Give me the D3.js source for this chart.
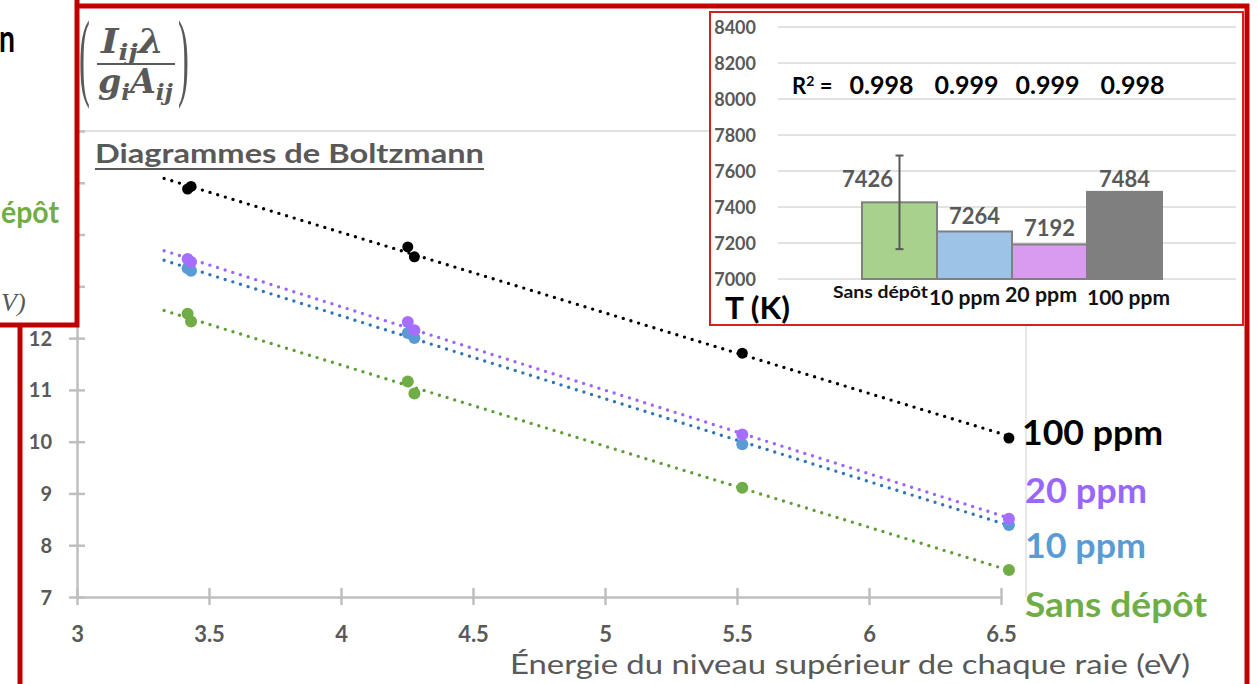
<!DOCTYPE html>
<html><head><meta charset="utf-8">
<script src="https://cdn.jsdelivr.net/npm/d3@7"></script>
<style>body{margin:0;background:#fff;overflow:hidden} svg{display:block}</style>
</head><body><svg id="c" width="1258" height="684"></svg>
<script>
// ---------- data ----------
const energies   = [3.419, 3.432, 4.253, 4.278, 5.52, 6.53];
const sansDepot  = [12.47, 12.32, 11.16, 10.93, 9.11, 7.52];
const ppm10      = [13.35, 13.30, 12.10, 12.00, 9.95, 8.39];
const ppm20      = [13.53, 13.47, 12.31, 12.15, 10.14, 8.51];
const ppm100     = [14.88, 14.93, 13.76, 13.57, 11.71, 10.07];
const seriesNames = ["Sans dépôt", "10 ppm", "20 ppm", "100 ppm"];
const xTicks = [3, 3.5, 4, 4.5, 5, 5.5, 6, 6.5];
const yTicks = [7, 8, 9, 10, 11, 12, 13, 14, 15, 16];
const yTickLabelsVisible = [7, 8, 9, 10, 11, 12];
const trendStart = 3.33;

const tempCategories = ["Sans dépôt", "10 ppm", "20 ppm", "100 ppm"];
const temperatures   = [7426, 7264, 7192, 7484];
const tempErrors     = [260, 0, 0, 0];
const r2Values       = ["0.998", "0.999", "0.999", "0.998"];
const tTicks = [7000, 7200, 7400, 7600, 7800, 8000, 8200, 8400];

// ---------- styles ----------
const RED = "#C00000";
const GREY = "#595959";
const AXIS = "#BFBFBF";
const FONT = "Lato, 'Open Sans', sans-serif";
const markerColors = ["#70AD47", "#5B9BD5", "#A66DFF", "#000000"];
const trendColors  = ["#5E9E34", "#2E75B6", "#9966FF", "#000000"];
const labelColors  = ["#70AD47", "#5B9BD5", "#9966FF", "#000000"];
const barColors    = ["#A9D18E", "#9DC3E6", "#D99BEE", "#7F7F7F"];

const svg = d3.select("#c");

// outer big box
svg.append("rect").attr("x", 20).attr("y", 6).attr("width", 1227).attr("height", 720)
  .attr("fill", "#fff").attr("stroke", RED).attr("stroke-width", 5);

// ---------- main chart ----------
const x = d3.scaleLinear().domain([3, 6.5]).range([77, 1001]);
const y = d3.scaleLinear().domain([7, 16]).range([597, 131]);

const g = svg.append("g");
g.append("line").attr("x1", 80).attr("x2", 1026).attr("y1", y(16)).attr("y2", y(16))
  .attr("stroke", "#D9D9D9").attr("stroke-width", 1.5);
g.append("line").attr("x1", 1026).attr("x2", 1026).attr("y1", y(16)).attr("y2", y(7))
  .attr("stroke", "#D0D0D0").attr("stroke-width", 1);

const yAxis = d3.axisLeft(y).tickValues(yTicks).tickSize(0)
  .tickFormat(d => yTickLabelsVisible.includes(d) ? d3.format("d")(d) : "");
const yg = g.append("g").attr("transform", `translate(${x(3)},0)`).call(yAxis);
yg.select(".domain").attr("stroke", AXIS).attr("stroke-width", 2.5);
yg.selectAll(".tick line").remove();
yg.selectAll(".tick").append("line").attr("x1", -8).attr("x2", 8).attr("stroke", AXIS).attr("stroke-width", 2.5);
yg.selectAll(".tick text").filter(d => !yTickLabelsVisible.includes(d)).remove();
yg.selectAll(".tick text").attr("x", -25).attr("dy", "0.35em").attr("fill", GREY)
  .style("font", `bold 20px ${FONT}`);

const xAxis = d3.axisBottom(x).tickValues(xTicks).tickSize(0).tickFormat(d => d);
const xg = g.append("g").attr("transform", `translate(0,${y(7)})`).call(xAxis);
xg.select(".domain").attr("stroke", AXIS).attr("stroke-width", 2.5);
xg.selectAll(".tick line").remove();
xg.selectAll(".tick").append("line").attr("y1", -9).attr("y2", 8).attr("stroke", AXIS).attr("stroke-width", 2.5);
xg.selectAll(".tick text").attr("y", 45).attr("dy", 0).attr("fill", GREY)
  .style("font", `bold 22px ${FONT}`);

// x axis title
g.append("text").attr("x", 510).attr("y", 674).attr("fill", GREY)
  .attr("textLength", 680).attr("lengthAdjust", "spacingAndGlyphs")
  .style("font", `27px ${FONT}`).text("Énergie du niveau supérieur de chaque raie (eV)");

// title
g.append("text").attr("x", 95).attr("y", 163).attr("fill", GREY)
  .attr("textLength", 389).attr("lengthAdjust", "spacingAndGlyphs")
  .style("font", `bold 26px ${FONT}`).text("Diagrammes de Boltzmann");
g.append("line").attr("x1", 95).attr("x2", 484).attr("y1", 169).attr("y2", 169)
  .attr("stroke", GREY).attr("stroke-width", 2);

// y-axis math label
const m = g.append("g").attr("fill", GREY).style("font-family", "'DejaVu Serif', 'Liberation Serif', serif");
m.append("text").attr("transform", "translate(79,88) scale(0.37,1.1)").style("font-size", "88px")
  .style("font-family", "'Liberation Serif', serif").text("(");
m.append("text").attr("transform", "translate(178,88) scale(0.37,1.1)").style("font-size", "88px")
  .style("font-family", "'Liberation Serif', serif").text(")");
const num = m.append("text").attr("x", 101).attr("y", 53).style("font-weight", "bold").style("font-style", "italic").style("font-size", "33px")
  .attr("textLength", 63).attr("lengthAdjust", "spacingAndGlyphs");
num.append("tspan").text("I");
num.append("tspan").attr("dy", 7).style("font-size", "23px").text("ij");
num.append("tspan").attr("dy", -7).text("λ");
m.append("line").attr("x1", 97).attr("x2", 175).attr("y1", 64).attr("y2", 64).attr("stroke", GREY).attr("stroke-width", 2);
const den = m.append("text").attr("x", 98).attr("y", 93).style("font-weight", "bold").style("font-style", "italic").style("font-size", "33px")
  .attr("textLength", 75).attr("lengthAdjust", "spacingAndGlyphs");
den.append("tspan").text("g");
den.append("tspan").attr("dy", 7).style("font-size", "23px").text("i");
den.append("tspan").attr("dy", -7).text("A");
den.append("tspan").attr("dy", 7).style("font-size", "23px").text("ij");

// series
const allSeries = [sansDepot, ppm10, ppm20, ppm100];
const line = d3.line().x(d => x(d[0])).y(d => y(d[1]));
allSeries.forEach((vals, i) => {
  const mx = d3.mean(energies), my = d3.mean(vals);
  const sxy = d3.sum(energies.map((e, k) => (e - mx) * (vals[k] - my)));
  const sxx = d3.sum(energies.map(e => (e - mx) ** 2));
  const b = sxy / sxx, a = my - b * mx;
  const xEnd = d3.max(energies);
  g.append("path").datum([[trendStart, a + b * trendStart], [xEnd, a + b * xEnd]])
    .attr("d", line).attr("fill", "none").attr("stroke", trendColors[i])
    .attr("stroke-width", 3.4).attr("stroke-linecap", "round").attr("stroke-dasharray", "0 8");
});
allSeries.forEach((vals, i) => {
  g.selectAll(null).data(vals).join("circle")
    .attr("cx", (d, k) => x(energies[k])).attr("cy", d => y(d))
    .attr("r", i === 3 ? 5.5 : 6).attr("fill", markerColors[i]);
});

// right-side series labels
const labelX = [1025, 1025, 1025, 1022];
const labelY = [617, 558, 503, 445];
const labelW = [182, 121, 122, 141];
seriesNames.forEach((s, i) => {
  g.append("text").attr("x", labelX[i]).attr("y", labelY[i]).attr("fill", labelColors[i])
    .attr("textLength", labelW[i]).attr("lengthAdjust", "spacingAndGlyphs")
    .style("font", `bold 35px ${FONT}`).text(s);
});

// ---------- inset bar chart ----------
const ins = svg.append("g");
ins.append("rect").attr("x", 710).attr("y", 12).attr("width", 533).attr("height", 313)
  .attr("fill", "#fff").attr("stroke", "#D42020").attr("stroke-width", 2);
const ty = d3.scaleLinear().domain([7000, 8400]).range([279, 27]);
const tx = d3.scaleBand().domain(tempCategories).range([862, 1162]).padding(0);

ins.selectAll(null).data(tTicks).join("line")
  .attr("x1", 778).attr("x2", 1236).attr("y1", d => ty(d)).attr("y2", d => ty(d))
  .attr("stroke", "#D9D9D9").attr("stroke-width", 1.3);
const tAxis = d3.axisLeft(ty).tickValues(tTicks).tickSize(0).tickFormat(d3.format("d"));
const tg = ins.append("g").attr("transform", "translate(756,0)").call(tAxis);
tg.select(".domain").remove();
tg.selectAll(".tick text").attr("x", 0).attr("dy", "0.35em").attr("fill", GREY)
  .style("font", `bold 18px ${FONT}`);

ins.selectAll(null).data(temperatures).join("rect")
  .attr("x", (d, i) => tx(tempCategories[i])).attr("width", tx.bandwidth())
  .attr("y", d => ty(d)).attr("height", d => ty(7000) - ty(d))
  .attr("fill", (d, i) => barColors[i]).attr("stroke", "#808080").attr("stroke-width", 2);

// error bar
temperatures.forEach((t, i) => {
  if (!tempErrors[i]) return;
  const cx = tx(tempCategories[i]) + tx.bandwidth() / 2;
  ins.append("line").attr("x1", cx).attr("x2", cx).attr("y1", ty(t + tempErrors[i])).attr("y2", ty(t - tempErrors[i]))
    .attr("stroke", "#595959").attr("stroke-width", 2);
  [t + tempErrors[i], t - tempErrors[i]].forEach(v => ins.append("line")
    .attr("x1", cx - 4).attr("x2", cx + 4).attr("y1", ty(v)).attr("y2", ty(v))
    .attr("stroke", "#595959").attr("stroke-width", 2));
});

// value labels
const valDx = [-32, 0, 0, 0];
const valDy = [-15, -7, -8, -5];
temperatures.forEach((t, i) => {
  ins.append("text").attr("x", tx(tempCategories[i]) + tx.bandwidth() / 2 + valDx[i])
    .attr("y", ty(t) + valDy[i]).attr("text-anchor", "middle").attr("fill", GREY)
    .style("font", `bold 22px ${FONT}`).text(t);
});

// category labels
const catX = [833, 929, 1005, 1087];
const catY = [298, 305, 302, 305];
const catW = [95, 71, 72, 83];
const catSize = [17, 20, 20, 20];
tempCategories.forEach((c, i) => {
  ins.append("text").attr("x", catX[i]).attr("y", catY[i])
    .attr("textLength", catW[i]).attr("lengthAdjust", "spacingAndGlyphs").attr("fill", "#111")
    .style("font", `bold ${catSize[i]}px ${FONT}`).text(c);
});

// R² row
ins.append("text").attr("x", 792).attr("y", 94).attr("fill", "#000")
  .style("font", `bold 22px ${FONT}`).html('R<tspan dy="-8" font-size="14">2</tspan><tspan dy="8"> =</tspan>');
const r2Dx = [-18, -8, -2, 8];
r2Values.forEach((r, i) => {
  ins.append("text").attr("x", tx(tempCategories[i]) + tx.bandwidth() / 2 + r2Dx[i]).attr("y", 94)
    .attr("text-anchor", "middle").attr("fill", "#000")
    .style("font", `bold 25px ${FONT}`).text(r);
});

ins.append("text").attr("x", 725).attr("y", 319).attr("fill", "#000")
  .attr("textLength", 65).attr("lengthAdjust", "spacingAndGlyphs")
  .style("font", `bold 31px ${FONT}`).text("T (K)");

// ---------- left overlapping box ----------
const lb = svg.append("g");
lb.append("rect").attr("x", -10).attr("y", -10).attr("width", 87).attr("height", 335)
  .attr("fill", "#fff").attr("stroke", RED).attr("stroke-width", 5);
lb.append("text").attr("x", -1).attr("y", 52).attr("fill", "#000")
  .attr("textLength", 16).attr("lengthAdjust", "spacingAndGlyphs")
  .style("font", `bold 38px ${FONT}`).text("n");
lb.append("text").attr("x", 1).attr("y", 223).attr("fill", "#70AD47")
  .attr("textLength", 58).attr("lengthAdjust", "spacingAndGlyphs")
  .style("font", `bold 30px ${FONT}`).text("épôt");
lb.append("text").attr("x", 1).attr("y", 311).attr("fill", GREY)
  .style("font", `italic 26px 'Liberation Serif', serif`).text("V)");
</script></body></html>
